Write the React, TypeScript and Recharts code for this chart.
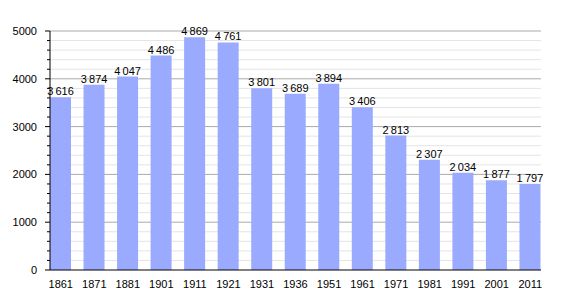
import React from "react";
import { BarChart, Bar, XAxis, YAxis, CartesianGrid, LabelList } from "recharts";

const years = ["1861", "1871", "1881", "1901", "1911", "1921", "1931", "1936", "1951", "1961", "1971", "1981", "1991", "2001", "2011"];
const population = [3616, 3874, 4047, 4486, 4869, 4761, 3801, 3689, 3894, 3406, 2813, 2307, 2034, 1877, 1797];
const majorTicks = [0, 1000, 2000, 3000, 4000, 5000];
const allTicks = [0, 200, 400, 600, 800, 1000, 1200, 1400, 1600, 1800, 2000, 2200, 2400, 2600, 2800, 3000, 3200, 3400, 3600, 3800, 4000, 4200, 4400, 4600, 4800, 5000];
const minorGrid = allTicks.filter((t) => t % 1000 !== 0);
const majorGrid = [1000, 2000, 3000, 4000, 5000];

const data = years.map((y, i) => ({ year: y, v: population[i] }));

const FONT = "'Liberation Sans', Arial, sans-serif";

const fmt = (v: any) => {
  const s = String(v);
  return s.length > 3 ? s.slice(0, s.length - 3) + "\u2009" + s.slice(s.length - 3) : s;
};

const YTick = (props: any) => {
  const { x, y, payload } = props;
  const val = payload.value;
  const isMajor = majorTicks.includes(val);
  const axisX = x + 13;
  return (
    <g>
      <line x1={axisX - (isMajor ? 5 : 3)} x2={axisX} y1={y} y2={y} stroke="#000" strokeWidth={1} />
      {isMajor && (
        <text x={x} y={y} dy={4} textAnchor="end" fontSize={11} fontFamily={FONT} fill="#000">
          {val}
        </text>
      )}
    </g>
  );
};

export default function App() {
  return (
    <div style={{ position: "absolute", left: 0, top: 0, background: "#fff" }}>
      <BarChart width={570} height={300} data={data} margin={{ top: 31, right: 29, bottom: 0, left: 0 }}>
        <CartesianGrid vertical={false} horizontalValues={minorGrid} stroke="#e4e4e4" />
        <CartesianGrid vertical={false} horizontalValues={majorGrid} stroke="#aaaaaa" />
        <XAxis
          dataKey="year"
          height={30}
          padding={{ left: -6, right: -6 }}
          tickLine={false}
          axisLine={{ stroke: "#000" }}
          tick={{ fontSize: 11, fontFamily: FONT, fill: "#000" }}
          tickMargin={4}
          interval={0}
        />
        <YAxis
          width={50}
          domain={[0, 5000]}
          ticks={allTicks}
          interval={0}
          tickSize={5}
          tickMargin={8}
          tickLine={false}
          axisLine={{ stroke: "#000" }}
          tick={<YTick />}
        />
        <Bar dataKey="v" fill="#99aaff" barSize={21} isAnimationActive={false}>
          <LabelList
            dataKey="v"
            position="top"
            offset={2}
            formatter={fmt}
            style={{ fontSize: 11, fontFamily: FONT, fill: "#000" }}
          />
        </Bar>
      </BarChart>
    </div>
  );
}
